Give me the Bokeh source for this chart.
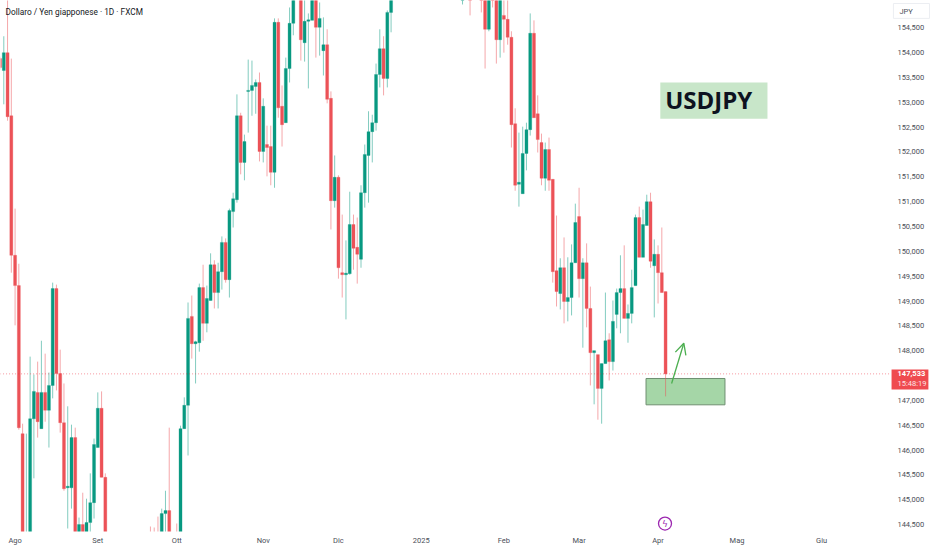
from bokeh.plotting import figure
from bokeh.models import (Range1d, FixedTicker, Label, Arrow, OpenHead, ColumnDataSource)
from bokeh.core.properties import value
from bokeh.embed import file_html
from bokeh.resources import INLINE

# Daily USD/JPY candles (bars wholly out of view are left out)
bar_no = list(range(0, 29)) + [40, 41, 42, 43, 44, 45] + list(range(47, 79)) + list(range(80, 105)) \
    + [123, 125, 128, 129, 130, 131] + list(range(132, 178))
opens = [153.88,153.64,154.00,152.73,149.92,149.31,146.33,143.90,144.20,146.63,147.16,146.43,147.16,146.80,147.30,149.25,147.54,146.55,145.24,145.24,146.25,144.20,144.50,144.20,144.54,144.94,146.05,146.84,145.45,
         144.30,144.30,144.30,144.20,144.72,144.78,
         144.30,144.20,146.43,146.90,148.69,148.14,148.16,149.27,148.55,149.01,149.73,149.17,149.59,150.18,149.43,150.80,151.04,152.73,151.79,153.22,153.24,153.32,153.40,152.01,152.15,152.11,151.59,154.61,152.92,152.59,153.68,154.59,
         155.30,154.20,154.63,154.65,155.30,154.51,154.04,154.16,153.08,151.02,151.49,149.57,149.53,149.55,150.54,150.08,149.84,151.18,151.93,152.41,152.59,153.56,154.08,153.48,154.81,
         155.30,155.50,155.50,155.50,154.47,155.50,
         155.30,154.26,154.75,154.67,154.31,152.57,151.35,151.16,151.97,152.45,154.39,152.77,152.19,151.47,152.05,151.45,149.61,149.15,149.67,148.99,149.07,149.77,150.70,149.45,149.77,148.85,147.96,147.92,147.24,147.74,148.22,147.78,148.73,149.17,149.25,148.65,148.75,149.31,150.68,149.88,150.52,151.00,149.71,149.94,149.57,149.19]
highs = [153.92,154.33,155.30,153.88,150.86,149.75,146.53,146.33,147.88,147.52,147.78,148.20,147.94,147.56,149.37,149.33,148.02,147.34,146.88,146.51,146.45,144.64,145.14,145.02,145.53,146.23,147.16,147.18,145.53,
         144.46,144.44,144.66,144.82,145.18,146.45,
         144.52,146.49,147.06,148.97,149.11,148.20,149.35,149.73,149.31,149.96,149.82,149.77,150.30,150.26,150.86,151.18,153.16,152.79,152.35,153.86,153.84,153.46,153.60,153.08,152.53,152.53,154.69,154.69,153.34,153.90,154.91,155.50,
         155.50,155.20,154.79,155.50,155.50,155.01,154.71,154.47,153.22,151.93,151.53,150.74,150.22,151.20,150.74,150.68,151.33,152.15,152.82,152.75,153.78,154.47,154.33,154.85,155.50,
         155.60,155.60,155.60,155.60,155.60,155.60,
         155.50,155.50,155.20,155.20,154.43,152.88,152.39,152.51,152.59,154.79,154.65,153.14,152.37,152.19,152.29,151.45,150.72,149.86,150.28,149.88,150.14,150.96,151.28,149.86,150.16,149.29,148.00,147.92,147.74,149.17,148.35,149.01,149.25,149.92,150.12,148.93,149.63,150.74,150.90,150.84,151.14,151.18,150.24,150.12,150.48,149.19]
lows = [153.66,152.96,152.63,149.57,148.51,146.41,144.00,143.80,144.00,145.43,146.25,146.43,146.57,146.05,147.04,147.20,146.35,145.18,144.42,144.82,144.00,144.00,144.00,144.00,144.20,144.62,146.05,145.45,144.00,
        144.00,144.00,144.00,144.00,144.00,144.00,
        144.00,144.00,146.43,145.89,147.84,147.34,147.98,148.20,148.37,149.01,148.85,148.85,149.23,149.37,149.07,150.48,150.98,151.55,151.43,152.39,152.73,152.77,151.81,151.79,151.51,151.33,151.28,152.69,152.11,152.59,153.40,154.35,
        153.84,153.82,153.28,154.65,153.90,153.94,153.54,152.98,150.44,150.88,149.45,149.07,148.63,149.53,149.63,149.35,149.67,150.88,150.98,151.79,152.43,153.30,153.14,153.30,154.41,
        154.97,154.75,154.81,153.68,154.43,154.91,
        153.78,153.90,154.00,154.16,152.09,151.22,150.90,151.16,151.63,152.33,152.69,151.99,151.33,151.22,151.22,149.37,148.89,148.83,148.55,148.59,148.71,149.77,149.07,148.06,148.47,147.30,146.92,146.61,146.53,147.74,147.40,147.60,148.45,148.35,148.65,148.16,148.55,149.31,149.88,149.88,150.52,149.67,148.67,148.95,149.17,147.08]
closes = [153.70,154.00,152.71,149.92,149.31,146.45,144.20,144.30,146.63,147.18,146.57,147.16,146.80,147.30,149.25,147.54,146.55,145.22,145.27,146.25,144.20,144.50,144.20,144.54,144.94,146.11,146.84,145.45,144.20,
          144.10,144.10,144.10,144.72,144.78,144.20,
          144.10,146.43,146.90,148.65,148.14,148.18,149.27,148.55,149.05,149.73,149.17,149.59,150.18,149.43,150.82,151.06,152.73,151.79,152.21,153.24,153.34,153.40,152.01,152.92,152.09,151.59,154.61,152.89,152.55,153.68,154.59,155.30,
          154.26,154.63,154.66,155.30,154.51,154.69,154.16,153.06,151.02,151.49,149.67,149.53,149.56,150.54,150.06,149.94,151.18,151.95,152.41,152.59,153.56,154.08,153.48,154.81,155.30,
          155.50,155.30,155.30,154.47,155.50,155.30,
          154.26,155.30,154.67,154.31,152.55,151.33,151.39,151.97,152.45,154.39,152.69,152.25,151.47,152.05,151.43,149.59,149.19,149.67,148.99,149.07,149.77,150.58,149.45,149.77,148.85,147.96,148.00,147.24,147.74,148.20,147.78,148.59,149.17,149.25,148.65,148.75,149.27,150.68,149.88,150.54,151.00,149.80,149.94,149.57,149.17,147.533]

current_price = 147.533
price_ticks = [144.5, 145.0, 145.5, 146.0, 146.5, 147.0, 147.5, 148.0, 148.5, 149.0, 149.5, 150.0,
               150.5, 151.0, 151.5, 152.0, 152.5, 153.0, 153.5, 154.0, 154.5]
price_labels = ["144,500", "145,000", "145,500", "146,000", "146,500", "147,000", "", "148,000", "148,500",
                "149,000", "149,500", "150,000", "150,500", "151,000", "151,500", "152,000", "152,500",
                "153,000", "153,500", "154,000", "154,500"]
month_bars = [4, 26, 47, 70, 90, 112, 134, 154, 175, 196, 218.5]
month_labels = ["Ago", "Set", "Ott", "Nov", "Dic", "2025", "Feb", "Mar", "Apr", "Mag", "Giu"]

zone_bars = [171.8, 192.8]
zone_prices = [146.91, 147.44]
arrow_bars = [178.6, 181.85]
arrow_prices = [147.34, 148.15]
tag_bars = [175.6, 204.1]
tag_prices = [152.67, 153.40]

SCALE_BAR = 236.8      # where the chart pane ends and the price scale begins
PANE_FLOOR = 144.36    # where the chart pane ends and the time scale begins

GREEN, RED = "#089981", "#ec5257"
n = min(len(bar_no), len(opens), len(highs), len(lows), len(closes))
colors = [GREEN if closes[i] >= opens[i] else RED for i in range(n)]
src = ColumnDataSource(dict(
    x=bar_no[:n], top=[max(opens[i], closes[i]) for i in range(n)], bottom=[min(opens[i], closes[i]) for i in range(n)],
    high=highs[:n], low=lows[:n], color=colors))

p = figure(width=932, height=550, output_backend="svg", toolbar_location=None,
           x_range=Range1d(0.122, 247.99), y_range=Range1d(143.977, 155.05),
           x_axis_location="below", y_axis_location="right",
           min_border_left=0, min_border_top=0, min_border_right=0, min_border_bottom=0,
           background_fill_color="white")
p.styles = {"position": "absolute", "left": "0", "top": "0"}
p.grid.visible = False
p.outline_line_color = None

xa, ya = p.xaxis[0], p.yaxis[0]
xa.fixed_location = PANE_FLOOR
ya.fixed_location = SCALE_BAR
xa.ticker = FixedTicker(ticks=month_bars)
xa.major_label_overrides = dict(zip(month_bars, month_labels))
ya.ticker = FixedTicker(ticks=price_ticks)
ya.major_label_overrides = dict(zip(price_ticks, price_labels))
for ax in (xa, ya):
    ax.axis_line_color = None
    ax.major_tick_line_color = None
    ax.minor_tick_line_color = None
    ax.major_tick_out = 0
    ax.major_tick_in = 0
    ax.major_label_text_font = "Roboto"
    ax.major_label_text_font_size = "7.5px"
    ax.major_label_text_color = "#4a4e58"
xa.major_label_standoff = 5
ya.major_label_standoff = 7

p.quad(left=[zone_bars[0]], right=[zone_bars[1]], bottom=[zone_prices[0]], top=[zone_prices[1]],
       fill_color="#a5d6a7", line_color="#6f8f71", line_width=1)

p.segment("x", "low", "x", "high", source=src, line_color="color", line_alpha=0.5, line_width=1)
p.vbar("x", 0.8, "bottom", "top", source=src, fill_color="color", line_color="color", line_width=0.3)
# time-scale strip hides what runs below the pane
p.quad(left=[0], right=[SCALE_BAR], bottom=[143.9], top=[PANE_FLOOR], fill_color="white", line_color=None)

p.segment(x0=[0], y0=[current_price], x1=[SCALE_BAR], y1=[current_price], line_color="#f23645", line_alpha=0.5,
          line_dash="1 2", line_width=1)

p.add_layout(Arrow(end=OpenHead(size=11, line_color="#4caf50", line_width=1.3),
                   x_start=arrow_bars[0], y_start=arrow_prices[0], x_end=arrow_bars[1], y_end=arrow_prices[1],
                   line_color="#4caf50", line_width=1.3))

p.quad(left=[tag_bars[0]], right=[tag_bars[1]], bottom=[tag_prices[0]], top=[tag_prices[1]],
       fill_color="#c8e6c9", line_color=None)
p.text(x=[176.9], y=[153.05], text=["USDJPY"], text_font=value("Open Sans"), text_font_size="24px",
       text_font_style="bold", text_color="#0d1220", text_baseline="middle", text_align="left")

p.scatter(x=[176.85], y=[144.52], size=13, marker="circle", fill_color=None, line_color="#9c27b0", line_width=1.3)
p.text(x=[176.85], y=[144.52], text=["ϟ"], text_font=value("DejaVu Sans"), text_font_size="9px",
       text_color="#9c27b0", text_baseline="middle", text_align="center")

p.add_layout(Label(x=5, y=539, x_units="screen", y_units="screen", text="Dollaro / Yen giapponese · 1D · FXCM",
                   text_font="Roboto", text_font_size="8.3px", text_color="#131722", text_baseline="middle"))

# price tag and currency box on the price scale
p.quad(left=[237.1], right=[246.9], bottom=[147.22], top=[147.62], fill_color="#ef4b50", line_color=None)
p.text(x=[238.7], y=[147.533], text=["147,533"], text_font=value("Roboto"), text_font_size="7.5px",
       text_font_style="bold", text_color="white", text_baseline="middle")
p.text(x=[238.7], y=[147.345], text=["15:48:19"], text_font=value("Roboto"), text_font_size="7.5px",
       text_color="#fde3e4", text_baseline="middle")
p.quad(left=[237.6], right=[247.2], bottom=[154.69], top=[154.99], fill_color="white", line_color="#eceef2")
p.text(x=[239.2], y=[154.82], text=["JPY"], text_font=value("Roboto"), text_font_size="7.5px",
       text_color="#4a4e58", text_baseline="middle")

open("out.html", "w").write(file_html(p, INLINE))
